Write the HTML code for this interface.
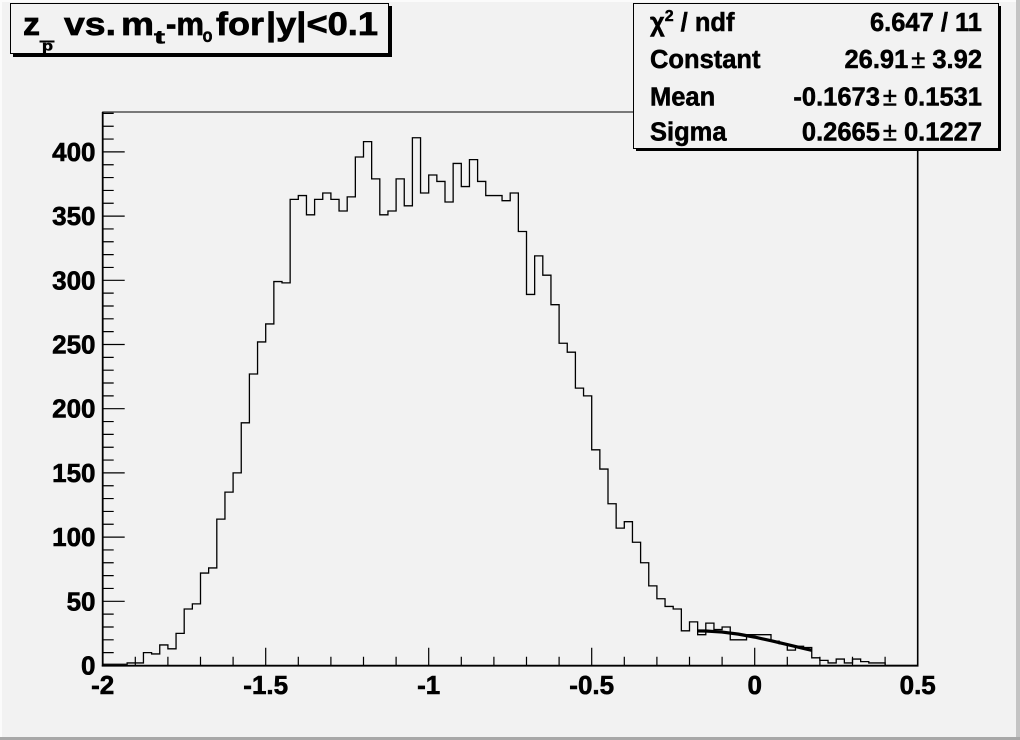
<!DOCTYPE html>
<html><head><meta charset="utf-8"><style>
html,body{margin:0;padding:0;background:#f2f2f2;}
svg{display:block;}
text{font-family:"Liberation Sans",Arial,sans-serif;font-weight:bold;fill:#000;}
</style></head><body>
<svg width="1020" height="740" viewBox="0 0 1020 740" xmlns="http://www.w3.org/2000/svg">
<rect x="0" y="0" width="1020" height="740" fill="#f2f2f2"/>
<!-- canvas bevel -->
<rect x="0" y="0" width="1020" height="2" fill="#fbfbfb"/>
<rect x="0" y="0" width="2" height="740" fill="#fbfbfb"/>
<rect x="1016" y="0" width="4" height="740" fill="#c4c4c4"/>
<rect x="0" y="737" width="1020" height="3" fill="#a8a8a8"/>

<!-- frame -->
<rect x="102.7" y="112" width="815" height="553.5" fill="none" stroke="#000" stroke-width="1"/>
<line x1="917.7" y1="112" x2="917.7" y2="666" stroke="#000" stroke-width="1.6"/>

<!-- histogram -->
<g transform="translate(102.7,665.5) scale(8.15,-1.284)">
<path vector-effect="non-scaling-stroke" fill="none" stroke="#000" stroke-width="1.3" d="M0 0 V1 H3 V2 H5 V10 H6 V9 H7 V16 H8 V13 H9 V25 H10 V44 H11 V48 H12 V72 H13 V76 H14 V114 H15 V135 H16 V150 H17 V189 H18 V227 H19 V252 H20 V266 H21 V299 H22 V298 H23 V363 H24 V366 H25 V351 H26 V363 H27 V368 H28 V363 H29 V354 H30 V365 H31 V396 H32 V408 H33 V379 H34 V351 H35 V354 H36 V379 H37 V358 H38 V411 H39 V368 H40 V382 H41 V377 H42 V361 H43 V391 H44 V373 H45 V394 H46 V377 H47 V366 H49 V362 H50 V368 H51 V338 H52 V289 H53 V319 H54 V304 H55 V281 H56 V251 H57 V244 H58 V216 H59 V210 H60 V168 H61 V153 H62 V126 H63 V107 H64 V112 H65 V96 H66 V80 H67 V62 H68 V52 H69 V46 H70 V44 H71 V27 H72 V34 H73 V24 H74 V33 H75 V28 H76 V30 H77 V20 H79 V24 H82 V19 H83 V17 H84 V12 H85 V15 H86 V14 H87 V6 H88 V4 H89 V2 H90 V5 H91 V2 H92 V5 H93 V3 H94 V2 H96 V0 H100"/>
<path vector-effect="non-scaling-stroke" fill="none" stroke="#000" stroke-width="3.2" d="M73 26.90 L74 26.85 L76 26.06 L78 24.43 L80 22.10 L82 19.30 L84 16.27 L86 13.25 L87 11.80"/>
</g>

<!-- axes -->
<line x1="102.7" y1="112" x2="102.7" y2="666.5" stroke="#000" stroke-width="1.8"/>
<line x1="101.8" y1="665.7" x2="918.5" y2="665.7" stroke="#000" stroke-width="1.8"/>

<!-- y ticks -->
<path fill="none" stroke="#000" stroke-width="1.2" d="
M102.7 665.5 h22 M102.7 652.66 h11 M102.7 639.82 h11 M102.7 626.98 h11 M102.7 614.14 h11
M102.7 601.3 h22 M102.7 588.46 h11 M102.7 575.62 h11 M102.7 562.78 h11 M102.7 549.94 h11
M102.7 537.1 h22 M102.7 524.26 h11 M102.7 511.42 h11 M102.7 498.58 h11 M102.7 485.74 h11
M102.7 472.9 h22 M102.7 460.06 h11 M102.7 447.22 h11 M102.7 434.38 h11 M102.7 421.54 h11
M102.7 408.7 h22 M102.7 395.86 h11 M102.7 383.02 h11 M102.7 370.18 h11 M102.7 357.34 h11
M102.7 344.5 h22 M102.7 331.66 h11 M102.7 318.82 h11 M102.7 305.98 h11 M102.7 293.14 h11
M102.7 280.3 h22 M102.7 267.46 h11 M102.7 254.62 h11 M102.7 241.78 h11 M102.7 228.94 h11
M102.7 216.1 h22 M102.7 203.26 h11 M102.7 190.42 h11 M102.7 177.58 h11 M102.7 164.74 h11
M102.7 151.9 h22 M102.7 139.06 h11 M102.7 126.22 h11 M102.7 113.38 h11"/>

<!-- x ticks -->
<path fill="none" stroke="#000" stroke-width="1.2" d="
M102.7 665.7 v-18 M135.3 665.7 v-9 M167.9 665.7 v-9 M200.5 665.7 v-9 M233.1 665.7 v-9
M265.7 665.7 v-18 M298.3 665.7 v-9 M330.9 665.7 v-9 M363.5 665.7 v-9 M396.1 665.7 v-9
M428.7 665.7 v-18 M461.3 665.7 v-9 M493.9 665.7 v-9 M526.5 665.7 v-9 M559.1 665.7 v-9
M591.7 665.7 v-18 M624.3 665.7 v-9 M656.9 665.7 v-9 M689.5 665.7 v-9 M722.1 665.7 v-9
M754.7 665.7 v-18 M787.3 665.7 v-9 M819.9 665.7 v-9 M852.5 665.7 v-9 M885.1 665.7 v-9
M917.7 665.7 v-18"/>

<!-- y labels -->
<g font-size="26" text-anchor="end" stroke="#000" stroke-width="0.6">
<text x="95.5" y="674.5">0</text>
<text x="95.5" y="610.3">50</text>
<text x="95.5" y="546.1">100</text>
<text x="95.5" y="481.9">150</text>
<text x="95.5" y="417.7">200</text>
<text x="95.5" y="353.5">250</text>
<text x="95.5" y="289.3">300</text>
<text x="95.5" y="225.1">350</text>
<text x="95.5" y="160.9">400</text>
</g>
<!-- x labels -->
<g font-size="26" text-anchor="middle" stroke="#000" stroke-width="0.6">
<text x="102.7" y="694">-2</text>
<text x="265.7" y="694">-1.5</text>
<text x="428.7" y="694">-1</text>
<text x="591.7" y="694">-0.5</text>
<text x="754.7" y="694">0</text>
<text x="917.7" y="694">0.5</text>
</g>

<!-- title box -->
<rect x="13" y="6" width="379" height="51" fill="#000"/>
<rect x="10.5" y="3.5" width="378" height="50" fill="#f2f2f2" stroke="#000" stroke-width="1"/>
<g font-size="32" stroke="#000" stroke-width="0.7">
<text x="23" y="35" textLength="17" lengthAdjust="spacingAndGlyphs">z</text>
<text x="64" y="35" textLength="52" lengthAdjust="spacingAndGlyphs">vs.</text>
<text x="121" y="35" textLength="33" lengthAdjust="spacingAndGlyphs">m</text>
<text x="166" y="35" textLength="38" lengthAdjust="spacingAndGlyphs">-m</text>
<text x="216" y="35" textLength="48" lengthAdjust="spacingAndGlyphs">for</text>
<text x="266" y="35" textLength="112" lengthAdjust="spacingAndGlyphs">|y|&lt;0.1</text>
</g>
<g stroke="#000" stroke-width="0.5">
<text x="42" y="50.5" font-size="14" textLength="11" lengthAdjust="spacingAndGlyphs">p</text>
<text x="154" y="43.5" font-size="18" textLength="11" lengthAdjust="spacingAndGlyphs">t</text>
<text x="202.5" y="42" font-size="19" textLength="10" lengthAdjust="spacingAndGlyphs">o</text>
</g>
<line x1="39.5" y1="41.5" x2="54.5" y2="41.5" stroke="#000" stroke-width="2"/>

<!-- stats box -->
<rect x="636" y="6" width="365" height="145" fill="#000"/>
<rect x="633.5" y="3.5" width="365" height="145" fill="#f2f2f2" stroke="#000" stroke-width="1"/>
<g font-size="25.5" stroke="#000" stroke-width="0.5">
<text x="650" y="31">χ<tspan font-size="16" dy="-10">2</tspan><tspan dy="10"> / ndf</tspan></text>
<text x="650" y="68">Constant</text>
<text x="650" y="105.5">Mean</text>
<text x="650" y="140.5">Sigma</text>
</g>
<g font-size="25.5" text-anchor="end" stroke="#000" stroke-width="0.5">
<text x="982" y="31">6.647 / 11</text>
<text x="982" y="68">26.91<tspan dx="3" font-weight="normal">±</tspan> 3.92</text>
<text x="982" y="105.5">-0.1673<tspan dx="3" font-weight="normal">±</tspan> 0.1531</text>
<text x="982" y="140.5">0.2665<tspan dx="3" font-weight="normal">±</tspan> 0.1227</text>
</g>
</svg>
</body></html>
